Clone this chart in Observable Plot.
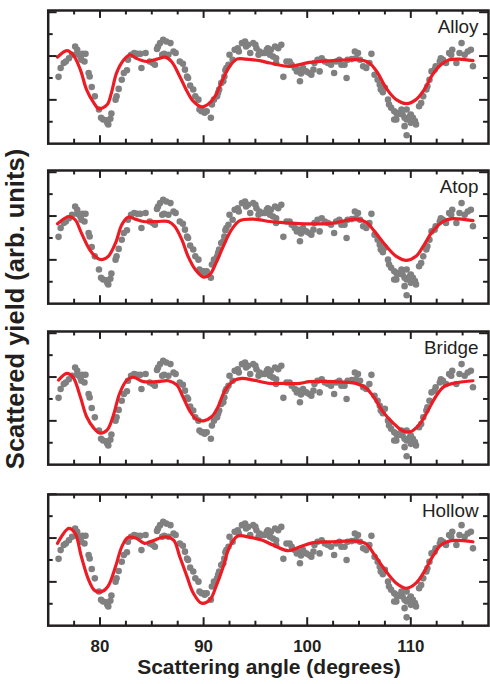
<!DOCTYPE html>
<html>
<head>
<meta charset="utf-8">
<script src="https://cdn.jsdelivr.net/npm/d3@7"></script>
<script src="https://cdn.jsdelivr.net/npm/@observablehq/plot@0.6"></script>
<style>
  html, body { margin: 0; padding: 0; background: #fff; overflow: hidden; }
  #fig { position: relative; width: 490px; height: 684px; overflow: hidden;
         font-family: "Liberation Sans", Arial, Helvetica, sans-serif; }
  .panel { position: absolute; left: 0; }
  .xtitle { position: absolute; left: 0; width: 538px; text-align: center;
            font-weight: bold; font-size: 21px; color: #231f20; }
  .ytitle { position: absolute; font-weight: bold; font-size: 25.5px; color: #231f20;
            white-space: nowrap; transform: translate(-50%, -50%) rotate(-90deg); }
</style>
</head>
<body>
<div id="fig"></div>
<script>
// Measured scattered yield (shared by all four panels)
const dotAngle = [
  76.0, 76.2, 76.5, 76.7, 77.0, 77.3, 77.6, 77.8, 77.8, 78.1, 78.3, 78.6, 78.2, 78.5, 78.9, 79.0,
  79.2, 79.5, 79.9, 80.1, 80.3, 80.6, 80.8, 81.0, 80.7, 81.1, 81.5, 81.6, 81.8, 82.1, 82.3, 82.6,
  82.7, 83.0, 83.3, 83.6, 83.9, 84.0, 84.4, 84.8, 85.3, 85.1, 85.5, 85.6, 85.8, 86.0, 86.1, 86.4,
  86.8, 86.2, 86.6, 87.1, 87.3, 87.7, 88.0, 88.2, 88.4, 88.5, 88.7, 89.0, 89.2, 89.5, 89.6, 89.8,
  90.0, 90.1, 90.3, 90.7, 90.8, 91.0, 91.3, 91.4, 91.5, 91.7, 91.9, 92.0, 92.1, 92.2, 92.4, 92.5,
  92.8, 93.0, 93.3, 93.4, 93.7, 94.0, 94.1, 94.3, 94.5, 94.8, 95.0, 95.1, 95.3, 95.4, 95.7, 96.1,
  95.9, 96.2, 96.5, 96.9, 97.2, 97.5, 96.4, 96.7, 97.0, 97.0, 97.7, 98.0, 98.3, 98.5, 98.8, 99.0,
  99.1, 99.4, 99.3, 99.6, 99.9, 100.2, 100.6, 100.4, 100.7, 101.0, 101.4, 101.2, 101.7, 102.0, 102.3, 102.6,
  102.8, 103.1, 103.3, 103.6, 103.8, 103.9, 104.3, 104.6, 104.9, 104.7, 105.1, 105.4, 105.7, 106.0, 106.2, 106.5,
  106.8, 107.0, 107.1, 107.3, 107.5, 107.8, 107.9, 108.1, 108.4, 108.6, 108.7, 108.6, 108.4, 109.1, 109.2, 109.6,
  109.4, 109.4, 109.6, 109.6, 109.9, 110.0, 110.2, 110.4, 110.5, 110.0, 110.8, 111.0, 111.2, 111.5, 111.6, 111.8,
  112.0, 112.3, 112.4, 112.8, 112.9, 113.1, 113.4, 113.7, 114.0, 113.9, 114.4, 114.7, 114.9, 115.2, 115.5, 115.8,
  116.0
];
const dotYield = [
  3.05, 3.45, 3.68, 3.75, 3.90, 4.06, 4.44, 4.29, 4.10, 3.98, 4.10, 4.10, 3.83, 3.75, 3.23, 3.07,
  2.59, 2.16, 1.56, 1.18, 1.10, 1.07, 0.88, 1.14, 0.95, 1.38, 2.01, 2.16, 2.50, 2.92, 3.23, 3.35,
  3.83, 4.06, 4.14, 4.10, 4.10, 3.45, 4.14, 3.75, 3.60, 3.68, 4.32, 4.44, 4.59, 4.06, 4.74, 4.66,
  4.59, 4.10, 4.06, 4.21, 4.14, 3.75, 3.65, 3.38, 3.07, 3.00, 2.65, 2.47, 2.16, 2.01, 1.56, 1.48,
  1.48, 1.41, 1.48, 1.18, 1.79, 2.01, 2.16, 2.32, 2.47, 2.77, 2.85, 3.07, 3.35, 3.45, 3.60, 4.06,
  3.83, 4.29, 4.36, 4.21, 4.59, 4.66, 4.44, 4.51, 4.14, 4.59, 4.51, 4.36, 4.06, 4.21, 4.14, 4.29,
  4.14, 4.36, 4.29, 4.44, 4.36, 4.51, 4.06, 3.98, 3.90, 3.68, 3.05, 3.75, 3.75, 3.60, 3.45, 3.30,
  3.38, 3.20, 2.85, 3.45, 3.30, 3.23, 3.38, 3.15, 3.68, 3.83, 3.90, 3.30, 3.75, 3.68, 3.60, 3.23,
  3.75, 3.83, 3.60, 3.60, 3.00, 3.83, 3.86, 4.21, 4.14, 3.90, 3.83, 3.53, 3.45, 3.68, 4.10, 3.15,
  2.92, 2.69, 2.47, 2.35, 2.55, 2.01, 1.79, 1.64, 1.48, 1.41, 1.33, 1.10, 1.10, 1.56, 1.33, 1.56,
  1.18, 0.80, 0.38, 1.10, 1.25, 1.33, 1.18, 1.03, 0.88, 0.95, 1.71, 1.86, 2.16, 2.47, 2.62, 2.92,
  3.30, 3.38, 3.53, 3.75, 3.90, 3.83, 3.68, 4.14, 4.29, 4.06, 3.68, 4.14, 4.59, 4.06, 4.21, 4.29,
  3.53
];

// Simulated yield for each adsorption site
const alloyAngle = [75.9, 76.8, 77.4, 78.1, 78.7, 79.4, 79.9, 80.7, 81.1, 81.6, 82.3, 82.9, 83.5, 84.5, 85.5, 86.3, 86.9, 87.7, 88.4, 89.0, 89.8, 90.4, 91.1, 91.7, 92.4, 93.2, 94.1, 95.4, 96.4, 98.3, 100.2, 102.5, 105.1, 106.0, 106.8, 107.6, 108.6, 109.6, 110.5, 111.3, 112.1, 112.9, 113.7, 114.7, 116.0];
const alloyFit   = [3.95, 4.25, 4.06, 3.38, 2.47, 1.86, 1.59, 1.79, 2.32, 3.23, 3.83, 4.06, 3.90, 3.75, 3.86, 3.95, 3.75, 3.07, 2.39, 1.94, 1.68, 1.79, 2.16, 2.77, 3.45, 3.86, 3.86, 3.79, 3.68, 3.53, 3.71, 3.79, 3.83, 3.68, 3.23, 2.55, 2.01, 1.83, 2.01, 2.47, 3.15, 3.60, 3.83, 3.86, 3.79];

const atopAngle = [75.9, 77.0, 77.6, 78.2, 79.0, 79.7, 80.2, 80.8, 81.5, 82.1, 82.7, 83.4, 84.2, 85.5, 86.6, 87.2, 87.9, 88.5, 89.2, 90.0, 90.6, 91.2, 91.9, 92.7, 93.5, 94.8, 96.4, 97.4, 100.2, 102.5, 104.7, 105.7, 106.5, 107.5, 108.6, 109.6, 110.5, 111.3, 112.1, 113.1, 114.0, 116.0];
const atopFit   = [3.65, 3.98, 3.83, 3.23, 2.47, 2.09, 2.01, 2.16, 2.77, 3.60, 3.95, 3.86, 3.75, 3.75, 3.75, 3.53, 2.92, 2.16, 1.56, 1.21, 1.33, 1.86, 2.62, 3.38, 3.79, 3.86, 3.75, 3.71, 3.64, 3.68, 3.86, 3.71, 3.30, 2.70, 2.16, 1.98, 2.16, 2.70, 3.30, 3.75, 3.88, 3.79];

const bridgeAngle = [76.0, 76.8, 77.4, 78.1, 78.7, 79.4, 80.0, 80.7, 81.3, 81.9, 82.6, 83.2, 84.2, 85.5, 86.6, 87.4, 88.0, 88.7, 89.3, 90.0, 90.8, 91.4, 92.0, 92.9, 93.7, 94.8, 96.4, 97.4, 99.3, 100.2, 102.5, 104.7, 105.7, 106.5, 107.3, 108.3, 109.2, 110.0, 110.8, 111.6, 112.4, 113.2, 114.4, 116.0];
const bridgeFit   = [3.86, 4.17, 3.99, 3.10, 2.20, 1.67, 1.44, 1.59, 2.27, 3.26, 3.86, 3.99, 3.79, 3.79, 3.83, 3.64, 3.10, 2.42, 2.08, 2.00, 2.20, 2.65, 3.33, 3.83, 3.94, 3.86, 3.71, 3.71, 3.71, 3.79, 3.79, 3.71, 3.49, 3.03, 2.42, 1.90, 1.55, 1.51, 1.82, 2.42, 3.10, 3.56, 3.74, 3.83];

const hollowAngle = [75.9, 77.0, 77.6, 78.2, 78.9, 79.5, 80.2, 80.8, 81.5, 82.1, 82.7, 83.5, 84.3, 85.1, 86.3, 87.1, 87.7, 88.4, 89.0, 89.8, 90.6, 91.2, 91.9, 92.5, 93.3, 94.5, 95.6, 96.7, 98.2, 99.3, 100.6, 102.5, 104.7, 105.7, 106.5, 107.5, 108.6, 109.6, 110.5, 111.3, 112.1, 112.9, 113.9, 116.0];
const hollowFit   = [3.76, 4.44, 4.21, 3.15, 2.09, 1.60, 1.56, 1.82, 2.70, 3.60, 4.03, 3.99, 3.76, 3.88, 4.06, 3.91, 3.15, 2.24, 1.49, 1.03, 1.18, 1.79, 2.70, 3.60, 4.09, 4.03, 3.91, 3.68, 3.42, 3.60, 3.79, 3.83, 3.86, 3.73, 3.23, 2.55, 1.94, 1.71, 1.94, 2.47, 3.15, 3.68, 3.88, 3.83];

const panelNames = ["Alloy", "Atop", "Bridge", "Hollow"];
const fitAngles = [alloyAngle, atopAngle, bridgeAngle, hollowAngle];
const fitValues = [alloyFit, atopFit, bridgeFit, hollowFit];

const xMajor = [80, 90, 100, 110];
const xMinor = [77.5, 82.5, 85, 87.5, 92.5, 95, 97.5, 102.5, 105, 107.5, 112.5, 115];
const yMajor = [2, 4, 6];
const yMinor = [1, 3, 5];
const xTitle = "Scattering angle (degrees)";
const yTitle = "Scattered yield (arb. units)";

const dots = dotAngle.map((a, i) => ({angle: a, yield: dotYield[i]}));

const fig = document.getElementById("fig");
const ink = "#231f20";
const W = 493, ML = 48, MR = 2;
const UNIT = 22.04;                         // pixels per yield unit
const panelTops = [10.3, 170.3, 331, 494];
const panelHeights = [134, 134, 134, 132];

panelNames.forEach((name, k) => {
  const last = k === panelNames.length - 1;
  const PH = panelHeights[k];
  const mt = 2, mb = last ? 40 : 2;
  const fit = fitAngles[k].map((a, i) => ({angle: a, value: fitValues[k][i]}));
  const marks = [
    Plot.dot(dots, {x: "angle", y: "yield", r: 3.3, fill: "#808080", stroke: null}),
    Plot.line(fit, {x: "angle", y: "value", stroke: "#ec1c24", strokeWidth: 3.2, curve: "catmull-rom"}),
    // inward ticks on all four sides
    Plot.tickX(xMajor, {x: d => d, insetTop: PH - 8, stroke: ink, strokeWidth: 2}),
    Plot.tickX(xMajor, {x: d => d, insetBottom: PH - 8, stroke: ink, strokeWidth: 2}),
    Plot.tickX(xMinor, {x: d => d, insetTop: PH - 4.5, stroke: ink, strokeWidth: 2}),
    Plot.tickX(xMinor, {x: d => d, insetBottom: PH - 4.5, stroke: ink, strokeWidth: 2}),
    Plot.tickY(yMajor, {y: d => d, insetRight: W - ML - MR - 9, stroke: ink, strokeWidth: 2}),
    Plot.tickY(yMinor, {y: d => d, insetRight: W - ML - MR - 5, stroke: ink, strokeWidth: 2}),
    Plot.tickY(yMajor, {y: d => d, insetLeft: W - ML - MR - 9, stroke: ink, strokeWidth: 2}),
    Plot.tickY(yMinor, {y: d => d, insetLeft: W - ML - MR - 5, stroke: ink, strokeWidth: 2}),
    Plot.frame({stroke: ink, strokeWidth: 2.5}),
    Plot.text([name], {text: d => d, frameAnchor: "top-right", dx: -10, dy: 17,
                       textAnchor: "end", lineAnchor: "middle", fontSize: 19, fill: ink})
  ];
  if (last) {
    marks.push(Plot.axisX(xMajor, {tickSize: 0, tickPadding: 14, fontSize: 17,
                                   fontWeight: "bold", fill: ink, label: null}));
  }
  const svg = Plot.plot({
    width: W, height: PH + mt + mb,
    marginLeft: ML, marginRight: MR, marginTop: mt, marginBottom: mb,
    style: {fontFamily: "'Liberation Sans', Arial, sans-serif", background: "transparent"},
    x: {domain: [75, 117.5], axis: null},
    y: {domain: [0, PH / UNIT], axis: null},
    marks
  });
  svg.classList.add("panel");
  svg.style.top = (panelTops[k] - mt) + "px";
  fig.appendChild(svg);
});

const xt = document.createElement("div");
xt.className = "xtitle";
xt.textContent = xTitle;
xt.style.top = "655px";
fig.appendChild(xt);

const yt = document.createElement("div");
yt.className = "ytitle";
yt.textContent = yTitle;
yt.style.left = "15px";
yt.style.top = "309px";
fig.appendChild(yt);
</script>
</body>
</html>
